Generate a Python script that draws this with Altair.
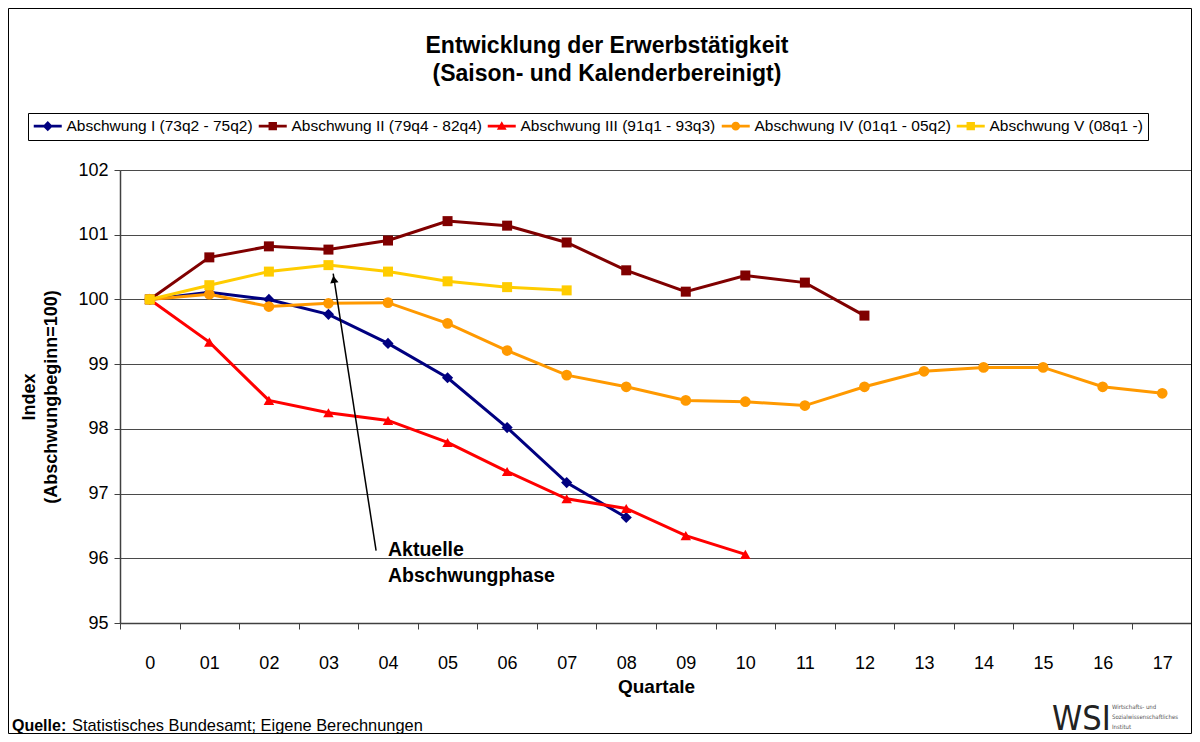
import altair as alt
import pandas as pd

# ---------------- data ----------------
quarters = ["0", "01", "02", "03", "04", "05", "06", "07", "08",
            "09", "10", "11", "12", "13", "14", "15", "16", "17"]

series_names = [
    "Abschwung I (73q2 - 75q2)",
    "Abschwung II (79q4 - 82q4)",
    "Abschwung III (91q1 - 93q3)",
    "Abschwung IV (01q1 - 05q2)",
    "Abschwung V (08q1 -)",
]

abschwung_1 = [100.0, 100.11, 100.0, 99.77, 99.32, 98.79, 98.02, 97.17, 96.63]
abschwung_2 = [100.0, 100.65, 100.82, 100.77, 100.91, 101.21, 101.14, 100.88,
               100.45, 100.12, 100.37, 100.26, 99.75]
abschwung_3 = [100.0, 99.34, 98.44, 98.25, 98.13, 97.79, 97.34, 96.92, 96.77,
               96.35, 96.06]
abschwung_4 = [100.0, 100.08, 99.89, 99.94, 99.95, 99.63, 99.21, 98.83, 98.65,
               98.44, 98.42, 98.36, 98.65, 98.89, 98.95, 98.95, 98.65, 98.55]
abschwung_5 = [100.0, 100.22, 100.43, 100.53, 100.43, 100.28, 100.19, 100.14]

colors = ["#000080", "#800000", "#FF0000", "#FF9900", "#FFCC00"]
marker_shapes = ["diamond", "square", "triangle-up", "circle", "square"]
marker_sizes = [125, 100, 110, 115, 100]

# legend symbols: short line with the marker in the middle (unit = 7 px)
legend_symbols = [
    "M-1,-0.19H3V0.19H-1ZM1,-0.72L1.72,0L1,0.72L0.28,0Z",
    "M-1,-0.19H3V0.19H-1ZM0.4,-0.6H1.6V0.6H0.4Z",
    "M-1,-0.19H3V0.19H-1ZM1,-0.7L1.7,0.5H0.3Z",
    "M-1,-0.19H3V0.19H-1ZM0.38,0A0.62,0.62,0,1,1,1.62,0A0.62,0.62,0,1,1,0.38,0Z",
    "M-1,-0.19H3V0.19H-1ZM0.4,-0.6H1.6V0.6H0.4Z",
]

title_text = "Entwicklung der Erwerbstätigkeit\n(Saison- und Kalenderbereinigt)"
source_label = "Quelle:"
source_text = "Statistisches Bundesamt; Eigene Berechnungen"

# annotation (arrow + label), in data units
arrow_tail = (3.80, 96.12)
arrow_tip = (3.08, 100.40)
arrow_head = (3.09, 100.31)
note_pos = (4.0, 96.03)
note_text = "Aktuelle\nAbschwungphase"

FONT = "Liberation Sans"
NARROW = "'DejaVu Sans Condensed', 'Roboto Condensed', Roboto, sans-serif"

# ---------------- table ----------------
rows = []
for name, vals in zip(series_names,
                      [abschwung_1, abschwung_2, abschwung_3, abschwung_4, abschwung_5]):
    for i, v in enumerate(vals):
        rows.append({"series": name, "quarter": quarters[i], "value": v, "order": i})
df = pd.DataFrame(rows)

x_enc = alt.X(
    "quarter:N",
    sort=quarters,
    scale=alt.Scale(type="band", domain=quarters, paddingInner=0, paddingOuter=0),
    axis=alt.Axis(
        title="Quartale", tickBand="extent", labelAngle=0,
        labelFont=FONT, labelFontSize=18, labelColor="black", labelPadding=25,
        tickSize=6, tickColor="#404040", tickWidth=1,
        domainColor="#404040", domainWidth=1.5,
        titleFont=FONT, titleFontSize=19, titleFontWeight="bold", titleColor="black",
        titlePadding=5, grid=False,
    ),
)
y_enc = alt.Y(
    "value:Q",
    scale=alt.Scale(domain=[95, 102], nice=False, zero=False),
    axis=alt.Axis(
        values=list(range(95, 103)), format="d",
        title=["Index", "(Abschwungbeginn=100)"],
        titleFont=FONT, titleFontSize=18, titleFontWeight="bold", titleColor="black",
        titleLineHeight=22, titlePadding=17,
        labelFont=FONT, labelFontSize=18, labelColor="black", labelPadding=6,
        tickSize=6, tickColor="#404040", domainColor="#404040", domainWidth=1.5,
        grid=True, gridColor="#4a4a4a", gridWidth=1,
    ),
)

series_layers = []
for name, col, shp, sz in zip(series_names, colors, marker_shapes, marker_sizes):
    base = alt.Chart(df).transform_filter(alt.datum.series == name)
    series_layers.append(
        base.mark_line(strokeWidth=3, color=col).encode(x=x_enc, y=y_enc, order="order:Q"))
    series_layers.append(
        base.mark_point(filled=True, opacity=1, shape=shp, size=sz, color=col)
        .encode(x=x_enc, y=y_enc))

leg = alt.Legend(
    title=None, orient="none", legendX=-92, legendY=-57, direction="horizontal",
    columns=5, symbolSize=196, symbolOpacity=1, labelFont=FONT,
    labelFontSize=15.5, labelColor="black", labelOffset=18, labelLimit=400,
    columnPadding=5, strokeColor="#000000", fillColor="white", padding=5,
    symbolStrokeWidth=0,
)
legend_layer = alt.Chart(df).mark_point(filled=True, opacity=1).encode(
    x=x_enc, y=y_enc,
    color=alt.Color("series:N", scale=alt.Scale(domain=series_names, range=colors),
                    legend=leg),
    shape=alt.Shape("series:N", scale=alt.Scale(domain=series_names, range=legend_symbols),
                    legend=leg),
).transform_filter("false")

inner = alt.layer(*series_layers, legend_layer)

# annotation layer with its own quantitative x scale
ann_x = alt.Scale(domain=[-0.5, 17.5], nice=False, zero=False)
ann_y = alt.Scale(domain=[95, 102], nice=False, zero=False)
arrow_df = pd.DataFrame([{"x": arrow_tail[0], "y": arrow_tail[1],
                          "x2": arrow_tip[0], "y2": arrow_tip[1]}])
arrow = alt.Chart(arrow_df).mark_rule(color="black", strokeWidth=1.5).encode(
    x=alt.X("x:Q", scale=ann_x, axis=None), y=alt.Y("y:Q", scale=ann_y, axis=None),
    x2="x2:Q", y2="y2:Q")
head_df = pd.DataFrame([{"x": arrow_head[0], "y": arrow_head[1]}])
head = alt.Chart(head_df).mark_point(shape="triangle-up", filled=True, color="black",
                                     size=70, angle=351, opacity=1).encode(
    x=alt.X("x:Q", scale=ann_x, axis=None), y=alt.Y("y:Q", scale=ann_y, axis=None))
note_df = pd.DataFrame([{"x": note_pos[0], "y": note_pos[1], "t": note_text}])
note = alt.Chart(note_df).mark_text(
    align="left", baseline="alphabetic", font=FONT, fontSize=19.5, fontWeight="bold",
    lineBreak="\n", lineHeight=26, color="black").encode(
    x=alt.X("x:Q", scale=ann_x, axis=None), y=alt.Y("y:Q", scale=ann_y, axis=None),
    text="t:N")

one = pd.DataFrame({"a": [0]})
title = alt.Chart(one).mark_text(align="center", baseline="alphabetic", font=FONT,
                                 fontSize=23, fontWeight="bold", color="black",
                                 lineBreak="\n", lineHeight=28).encode(
    x=alt.value(487), y=alt.value(-117), text=alt.value(title_text))
src_bold = alt.Chart(one).mark_text(align="left", baseline="alphabetic", font=FONT,
                                    fontSize=16, fontWeight="bold", color="black").encode(
    x=alt.value(-108), y=alt.value(561), text=alt.value(source_label))
src_rest = alt.Chart(one).mark_text(align="left", baseline="alphabetic", font=FONT,
                                    fontSize=16.4, color="black").encode(
    x=alt.value(-48), y=alt.value(561), text=alt.value(source_text))
wsi = alt.Chart(one).mark_text(align="left", baseline="alphabetic", font=NARROW,
                               fontSize=34, color="#222222").encode(
    x=alt.value(932), y=alt.value(560), text=alt.value("WSI"))
wsi_sub = alt.Chart(one).mark_text(align="left", baseline="alphabetic", font=NARROW,
                                   fontSize=6, lineBreak="\n", lineHeight=10,
                                   color="#555555").encode(
    x=alt.value(992), y=alt.value(539),
    text=alt.value("Wirtschafts- und\nSozialwissenschaftliches\nInstitut"))
frame = alt.Chart(one).mark_rect(fillOpacity=0, stroke="black", strokeWidth=1).encode(
    x=alt.value(-111.5), x2=alt.value(1071.5), y=alt.value(-161.5), y2=alt.value(563.5))

chart = alt.layer(inner, arrow, head, note, title, src_bold, src_rest, wsi, wsi_sub,
                  frame).resolve_scale(
    x="independent", y="independent"
).properties(
    width=1072, height=453,
    autosize=alt.AutoSizeParams(type="none"),
    padding={"left": 112, "top": 162, "right": 0, "bottom": 111},
).configure_view(stroke=None).configure(background="white")

chart.save("out.html", embed_options={"renderer": "svg", "actions": False})
